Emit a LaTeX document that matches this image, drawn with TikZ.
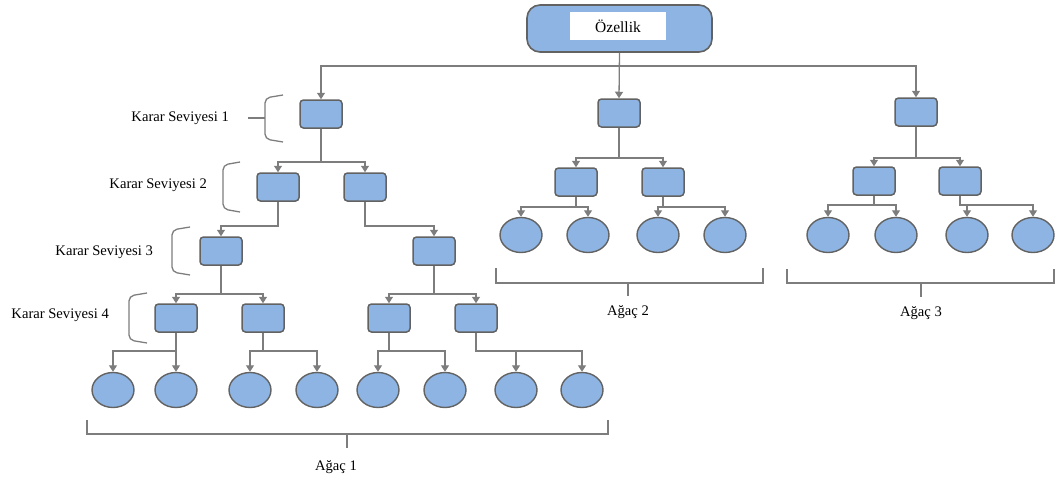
\documentclass[tikz,border=0pt]{standalone}
\usepackage{fontspec}
\setmainfont{Liberation Serif}
\usetikzlibrary{arrows.meta,shapes.geometric}

\definecolor{boxfill}{RGB}{141,180,226}
\definecolor{boxline}{RGB}{98,98,98}
\definecolor{wire}{RGB}{125,125,125}

\tikzset{
  decision/.style={draw=boxline, line width=1.5pt, fill=boxfill, rounded corners=3.5pt,
    minimum width=42pt, minimum height=28pt, inner sep=0pt},
  leaf/.style={ellipse, draw=boxline, line width=1.4pt, fill=boxfill,
    minimum width=42pt, minimum height=35pt, inner sep=0pt},
  conn/.style={draw=wire, line width=1.3pt, -{Triangle[width=8pt,length=6.5pt]}},
  plain/.style={draw=wire, line width=1.3pt},
  brace/.style={draw=wire, line width=1.3pt, rounded corners=5pt},
  lbl/.style={font=\fontsize{14.6}{17}\selectfont, inner sep=0pt},
}

\begin{document}
\begin{tikzpicture}[x=1pt, y=-1pt]
\useasboundingbox (0,0) rectangle (1057,479);

% feature node at the top
\node[draw=boxline, line width=1.6pt, fill=boxfill, rounded corners=13pt,
      minimum width=185pt, minimum height=47pt] (root) at (619.5,28.5) {};
\node[fill=white, minimum width=96pt, minimum height=28pt, inner sep=0pt,
      font=\fontsize{15.5}{18}\selectfont] (feat) at (618,26) {Özellik};

% ---------- tree 1 ----------
\node[decision] (a1)  at (321,114) {};
\node[decision] (a21) at (278,187) {};
\node[decision] (a22) at (365,187) {};
\node[decision] (a31) at (221,251) {};
\node[decision] (a32) at (434,251) {};
\node[decision] (a41) at (176,318) {};
\node[decision] (a42) at (263,318) {};
\node[decision] (a43) at (389,318) {};
\node[decision] (a44) at (476,318) {};
\foreach \n/\x in {1/113,2/176,3/250,4/317,5/378,6/445,7/516,8/582}
  \node[leaf] (l\n) at (\x,390) {};

% ---------- tree 2 ----------
\node[decision] (b1)  at (619,113) {};
\node[decision] (b21) at (576,182) {};
\node[decision] (b22) at (663,182) {};
\foreach \n/\x in {1/521,2/588,3/658,4/725}
  \node[leaf] (m\n) at (\x,235) {};

% ---------- tree 3 ----------
\node[decision] (c1)  at (916,112) {};
\node[decision] (c21) at (874,181) {};
\node[decision] (c22) at (960,181) {};
\foreach \n/\x in {1/828,2/896,3/967,4/1033}
  \node[leaf] (n\n) at (\x,235) {};

% connectors from the feature node
\draw[conn] (root.south) -- (root.south |- 0,66) -| (a1.north);
\draw[conn] (root.south) -- (b1.north);
\draw[conn] (root.south) -- (root.south |- 0,66) -| (c1.north);

% tree 1 connectors
\draw[conn] (a1.south) -- (a1.south |- 0,162) -| (a21.north);
\draw[conn] (a1.south) -- (a1.south |- 0,162) -| (a22.north);
\draw[conn] (a21.south) -- (a21.south |- 0,226) -| (a31.north);
\draw[conn] (a22.south) -- (a22.south |- 0,226) -| (a32.north);
\draw[conn] (a31.south) -- (a31.south |- 0,294) -| (a41.north);
\draw[conn] (a31.south) -- (a31.south |- 0,294) -| (a42.north);
\draw[conn] (a32.south) -- (a32.south |- 0,294) -| (a43.north);
\draw[conn] (a32.south) -- (a32.south |- 0,294) -| (a44.north);
\draw[conn] (a41.south) -- (a41.south |- 0,351) -| (l1.north);
\draw[conn] (a41.south) -- (l2.north);
\draw[conn] (a42.south) -- (a42.south |- 0,351) -| (l3.north);
\draw[conn] (a42.south) -- (a42.south |- 0,351) -| (l4.north);
\draw[conn] (a43.south) -- (a43.south |- 0,351) -| (l5.north);
\draw[conn] (a43.south) -- (a43.south |- 0,351) -| (l6.north);
\draw[conn] (a44.south) -- (a44.south |- 0,351) -| (l7.north);
\draw[conn] (a44.south) -- (a44.south |- 0,351) -| (l8.north);

% tree 2 connectors
\draw[conn] (b1.south) -- (b1.south |- 0,158) -| (b21.north);
\draw[conn] (b1.south) -- (b1.south |- 0,158) -| (b22.north);
\draw[conn] (b21.south) -- (b21.south |- 0,207) -| (m1.north);
\draw[conn] (b21.south) -- (b21.south |- 0,207) -| (m2.north);
\draw[conn] (b22.south) -- (b22.south |- 0,207) -| (m3.north);
\draw[conn] (b22.south) -- (b22.south |- 0,207) -| (m4.north);

% tree 3 connectors
\draw[conn] (c1.south) -- (c1.south |- 0,158) -| (c21.north);
\draw[conn] (c1.south) -- (c1.south |- 0,158) -| (c22.north);
\draw[conn] (c21.south) -- (c21.south |- 0,205) -| (n1.north);
\draw[conn] (c21.south) -- (c21.south |- 0,205) -| (n2.north);
\draw[conn] (c22.south) -- (c22.south |- 0,205) -| (n3.north);
\draw[conn] (c22.south) -- (c22.south |- 0,205) -| (n4.north);

% brackets under the trees with their names
\draw[plain] (87,420) -- (87,434) -- (608,434) -- (608,420);
\draw[plain] (347,434) -- (347,448);
\node[lbl] (t1) at (336,467) {Ağaç 1};

\draw[plain] (496,268) -- (496,283) -- (763,283) -- (763,268);
\draw[plain] (628,283) -- (628,296);
\node[lbl] (t2) at (628,312) {Ağaç 2};

\draw[plain] (787,269) -- (787,283) -- (1054,283) -- (1054,269);
\draw[plain] (921,283) -- (921,297);
\node[lbl] (t3) at (921,313) {Ağaç 3};

% decision level labels with their braces
\node[lbl, anchor=east] (k1) at (229,118) {Karar Seviyesi 1};
\draw[brace] (283,95) -- (265,98) -- (265,139) -- (283,142);
\draw[plain] (265,118) -- (248,118);

\node[lbl, anchor=east] (k2) at (207,185) {Karar Seviyesi 2};
\draw[brace] (240,162) -- (223,165) -- (223,209) -- (240,212);

\node[lbl, anchor=east] (k3) at (153,252) {Karar Seviyesi 3};
\draw[brace] (190,227) -- (172,230) -- (172,272) -- (190,275);

\node[lbl, anchor=east] (k4) at (109,315) {Karar Seviyesi 4};
\draw[brace] (147,293) -- (129,296) -- (129,340) -- (147,343);

\end{tikzpicture}
\end{document}
